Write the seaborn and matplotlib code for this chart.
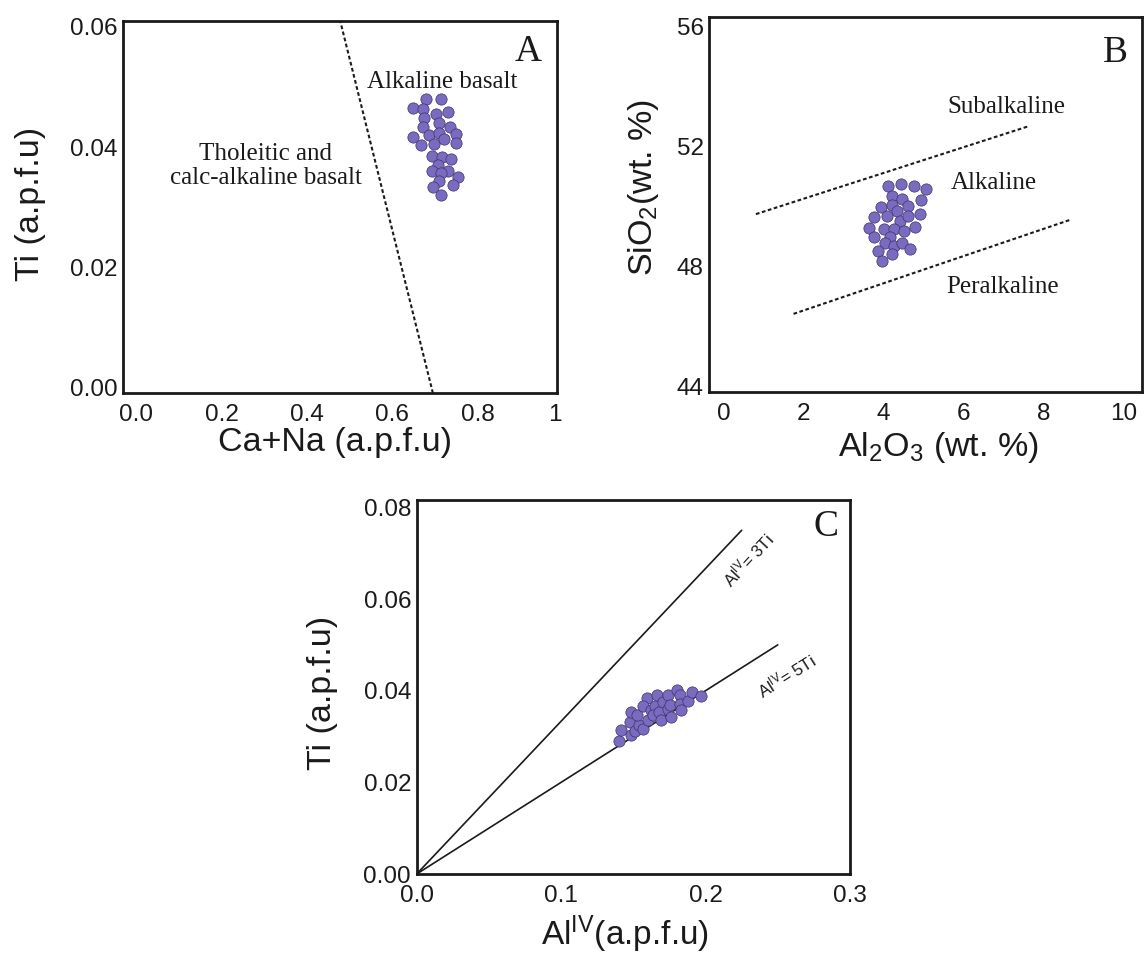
import matplotlib
matplotlib.use("Agg")
import matplotlib.pyplot as plt
import seaborn as sns
from matplotlib import font_manager

# ---- Panel A: Ti vs Ca+Na (a.p.f.u) ----
a_ca_na = [0.678, 0.713, 0.649, 0.672, 0.731, 0.701, 0.673, 0.710, 0.672, 0.734,
           0.649, 0.685, 0.710, 0.748, 0.721, 0.668, 0.698, 0.749, 0.692, 0.717,
           0.738, 0.707, 0.693, 0.731, 0.715, 0.754, 0.710, 0.695, 0.741, 0.713]
a_ti = [0.0480, 0.0480, 0.0465, 0.0463, 0.0458, 0.0455, 0.0448, 0.0440, 0.0434, 0.0434,
        0.0417, 0.0420, 0.0423, 0.0422, 0.0413, 0.0404, 0.0405, 0.0406, 0.0385, 0.0384,
        0.0380, 0.0370, 0.0361, 0.0360, 0.0357, 0.0350, 0.0343, 0.0333, 0.0337, 0.0321]
a_boundary_x = [0.477, 0.695]
a_boundary_y = [0.0612, -0.0009]

# ---- Panel B: SiO2 vs Al2O3 (wt. %) ----
b_al2o3 = [4.10, 4.44, 4.75, 5.06, 4.20, 4.47, 4.94, 3.94, 4.20, 4.33,
           4.60, 3.75, 4.08, 4.40, 4.60, 4.91, 3.64, 4.00, 4.27, 4.51,
           4.78, 3.75, 4.16, 4.04, 4.26, 4.45, 4.66, 3.85, 4.22, 3.95]
b_sio2 = [50.69, 50.73, 50.68, 50.59, 50.35, 50.23, 50.20, 49.97, 50.03, 49.85,
          50.02, 49.65, 49.68, 49.52, 49.69, 49.73, 49.29, 49.25, 49.24, 49.19,
          49.30, 48.97, 48.99, 48.79, 48.69, 48.79, 48.58, 48.52, 48.40, 48.18]
b_sub_x = [0.81, 7.59]
b_sub_y = [49.74, 52.65]
b_per_x = [1.75, 8.64]
b_per_y = [46.42, 49.54]

# ---- Panel C: Ti vs AlIV (a.p.f.u) ----
c_aliv = [0.1403, 0.1415, 0.1484, 0.1477, 0.1484, 0.1512, 0.1542, 0.1528, 0.1565, 0.1593,
          0.1569, 0.1604, 0.1620, 0.1650, 0.1662, 0.1639, 0.1680, 0.1692, 0.1704, 0.1742,
          0.1742, 0.1759, 0.1801, 0.1754, 0.1823, 0.1823, 0.1830, 0.1881, 0.1904, 0.1969]
c_ti = [0.0291, 0.0314, 0.0303, 0.0331, 0.0353, 0.0312, 0.0325, 0.0348, 0.0316, 0.0383,
        0.0366, 0.0336, 0.0358, 0.0367, 0.0390, 0.0347, 0.0353, 0.0336, 0.0375, 0.0390,
        0.0359, 0.0343, 0.0401, 0.0369, 0.0390, 0.0370, 0.0358, 0.0378, 0.0398, 0.0388]
c_ratio = [3, 5]            # AlIV = 3Ti and AlIV = 5Ti
c_ratio_end = [0.225, 0.250]

POINT_FILL = "#7a6bc1"
POINT_EDGE = "#3b3366"
INK = "#1a1a1a"

sns.set_style("white")
plt.rcParams["font.family"] = ["Liberation Sans", "DejaVu Sans"]
plt.rcParams["mathtext.fontset"] = "custom"
plt.rcParams["mathtext.rm"] = "Liberation Sans"
plt.rcParams["mathtext.it"] = "Liberation Sans:italic"
plt.rcParams["mathtext.bf"] = "Liberation Sans:bold"

installed = {f.name for f in font_manager.fontManager.ttflist}
narrow = "Liberation Sans Narrow" if "Liberation Sans Narrow" in installed else "Liberation Sans"
xtick_size = 19.5 if narrow == "Liberation Sans Narrow" else 17.5
SERIF = ["Liberation Serif", "DejaVu Serif"]

fig = plt.figure(figsize=(11.44, 9.55), dpi=100)
axA = fig.add_axes([0.1078, 0.5882, 0.3789, 0.3902])
axB = fig.add_axes([0.6200, 0.5892, 0.3780, 0.3927])
axC = fig.add_axes([0.3642, 0.0848, 0.3788, 0.3916])


def frame(ax):
    for sp in ax.spines.values():
        sp.set_visible(True)
        sp.set_color(INK)
        sp.set_linewidth(2.0)
    ax.tick_params(axis="both", length=0)
    ax.tick_params(axis="y", pad=4, labelsize=17.5, colors=INK)
    ax.tick_params(axis="x", pad=8, colors=INK)
    for lab in ax.get_xticklabels():
        lab.set_fontfamily(narrow)
        lab.set_fontsize(xtick_size)
    ax.grid(False)


def points(ax, x, y):
    sns.scatterplot(x=x, y=y, ax=ax, s=66, color=POINT_FILL, edgecolor=POINT_EDGE,
                    linewidth=0.5, legend=False, zorder=3)


# Panel A
points(axA, a_ca_na, a_ti)
axA.plot(a_boundary_x, a_boundary_y, color=INK, lw=1.5, linestyle=(0, (1.8, 1.2)))
axA.set_xlim(-0.03, 0.985)
axA.set_ylim(-0.0009, 0.0610)
axA.set_xticks([0, 0.2, 0.4, 0.6, 0.8, 0.98])
axA.set_xticklabels(["0.0", "0.2", "0.4", "0.6", "0.8", "1"])
axA.set_yticks([0, 0.02, 0.04, 0.06])
axA.set_yticklabels(["0.00", "0.02", "0.04", "0.06"])
frame(axA)
axA.set_xlabel("Ca+Na (a.p.f.u)", fontsize=24.5, color=INK, va="center")
axA.set_ylabel("Ti (a.p.f.u)", fontsize=24.5, color=INK, va="center")
axA.xaxis.set_label_coords(0.4885, -0.133)
axA.yaxis.set_label_coords(-0.215, 0.508)
axA.text(0.716, 0.0508, "Alkaline basalt", family=SERIF, fontsize=18, ha="center", va="center", color=INK)
axA.text(0.303, 0.0369, "Tholeitic and\ncalc-alkaline basalt", family=SERIF, fontsize=18,
         ha="center", va="center", color=INK, linespacing=1.1)
axA.text(0.917, 0.0558, "A", family=SERIF, fontsize=27, ha="center", va="center", color=INK)

# Panel B
points(axB, b_al2o3, b_sio2)
axB.plot(b_sub_x, b_sub_y, color=INK, lw=1.5, linestyle=(0, (1.8, 1.2)))
axB.plot(b_per_x, b_per_y, color=INK, lw=1.5, linestyle=(0, (1.8, 1.2)))
axB.set_xlim(-0.355, 10.45)
axB.set_ylim(43.81, 56.29)
axB.set_xticks([0, 2, 4, 6, 8, 10])
axB.set_yticks([44, 48, 52, 56])
frame(axB)
axB.set_xlabel("Al$_2$O$_3$ (wt. %)", fontsize=24.5, color=INK, va="center")
axB.set_ylabel("SiO$_2$(wt. %)", fontsize=24.5, color=INK, va="center")
axB.xaxis.set_label_coords(0.529, -0.146)
axB.yaxis.set_label_coords(-0.153, 0.547)
axB.text(7.08, 53.30, "Subalkaline", family=SERIF, fontsize=18, ha="center", va="center", color=INK)
axB.text(6.76, 50.78, "Alkaline", family=SERIF, fontsize=18, ha="center", va="center", color=INK)
axB.text(6.98, 47.31, "Peralkaline", family=SERIF, fontsize=18, ha="center", va="center", color=INK)
axB.text(9.79, 55.10, "B", family=SERIF, fontsize=27, ha="center", va="center", color=INK)

# Panel C
for r, xe in zip(c_ratio, c_ratio_end):
    axC.plot([0, xe], [0, xe / r], color=INK, lw=1.2, zorder=2)
points(axC, c_aliv, c_ti)
axC.set_xlim(0, 0.3)
axC.set_ylim(0, 0.0816)
axC.set_xticks([0, 0.1, 0.2, 0.3])
axC.set_xticklabels(["0.0", "0.1", "0.2", "0.3"])
axC.set_yticks([0, 0.02, 0.04, 0.06, 0.08])
axC.set_yticklabels(["0.00", "0.02", "0.04", "0.06", "0.08"])
frame(axC)
axC.set_xlabel("Al$^{\\mathrm{IV}}$(a.p.f.u)", fontsize=24, color=INK, va="center")
axC.set_ylabel("Ti (a.p.f.u)", fontsize=24.5, color=INK, va="center")
axC.xaxis.set_label_coords(0.481, -0.162)
axC.yaxis.set_label_coords(-0.218, 0.484)
axC.text(0.2294, 0.0685, "Al$^{\\mathrm{IV}}$= 3Ti", fontsize=12, rotation=47,
         rotation_mode="anchor", ha="center", va="center", color=INK)
axC.text(0.2557, 0.0432, "Al$^{\\mathrm{IV}}$= 5Ti", fontsize=12, rotation=32,
         rotation_mode="anchor", ha="center", va="center", color=INK)
axC.text(0.2834, 0.0757, "C", family=SERIF, fontsize=27, ha="center", va="center", color=INK)

fig.savefig("out.png", dpi=100, facecolor="white")
